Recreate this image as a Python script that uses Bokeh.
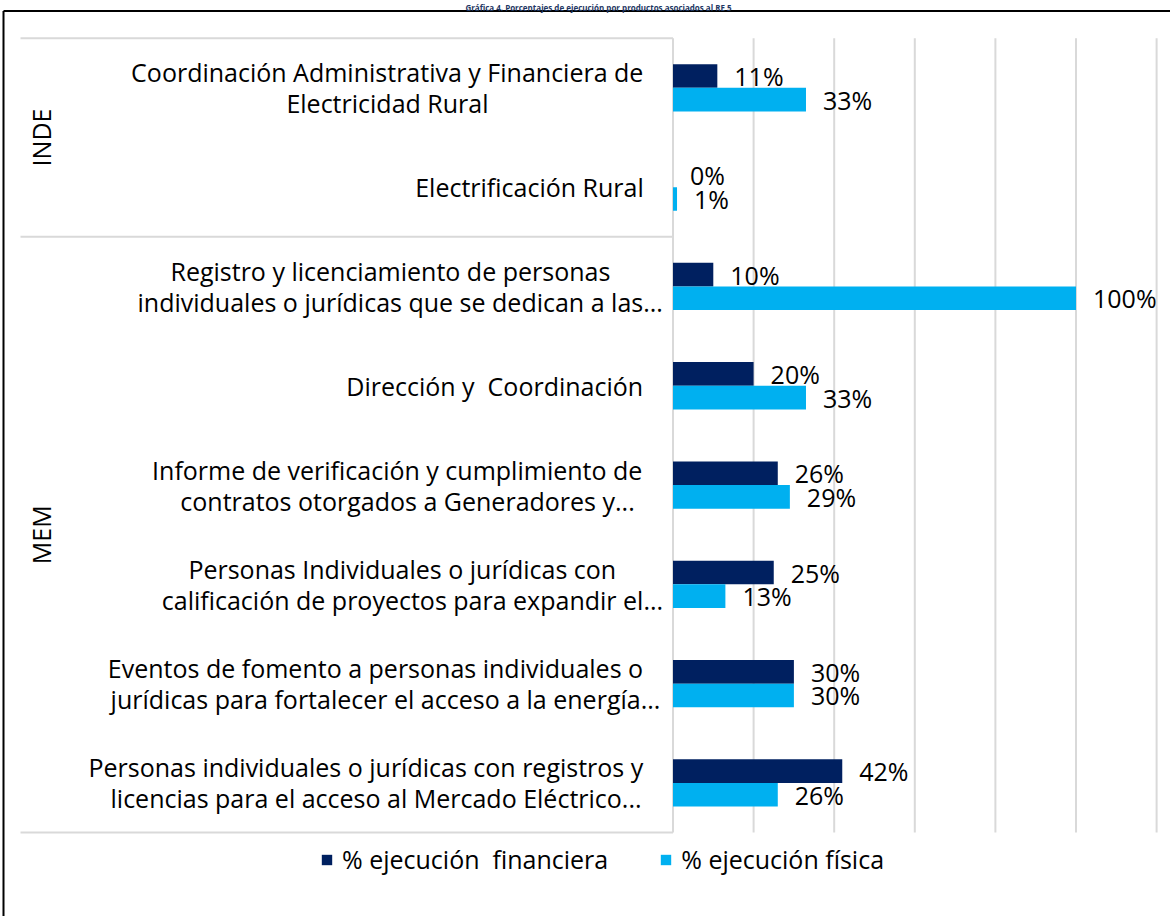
import math
from bokeh.plotting import figure
from bokeh.models import Range1d, Legend, LegendItem, ColumnDataSource
from bokeh.core.properties import value
from bokeh.transform import dodge
from bokeh.embed import file_html
from bokeh.resources import INLINE

# ---------------- data ----------------
title_text = "Gráfica 4. Porcentajes de ejecución por productos asociados al RE 5"
groups = ["INDE", "INDE", "MEM", "MEM", "MEM", "MEM", "MEM", "MEM"]
categories = [
    "Coordinación Administrativa y Financiera de\nElectricidad Rural",
    "Electrificación Rural",
    "Registro y licenciamiento de personas\nindividuales o jurídicas que se dedican a las...",
    "Dirección y  Coordinación",
    "Informe de verificación y cumplimiento de\ncontratos otorgados a Generadores y...",
    "Personas Individuales o jurídicas con\ncalificación de proyectos para expandir el...",
    "Eventos de fomento a personas individuales o\njurídicas para fortalecer el acceso a la energía...",
    "Personas individuales o jurídicas con registros y\nlicencias para el acceso al Mercado Eléctrico...",
]
ejec_financiera = [11, 0, 10, 20, 26, 25, 30, 42]
ejec_fisica = [33, 1, 100, 33, 29, 13, 30, 26]
series_names = ["% ejecución  financiera", "% ejecución física"]
grid_ticks = [0, 20, 40, 60, 80, 100, 120]

# ---------------- styles / layout ----------------
FONT = "Open Sans"
FS = 25                 # main font size (px)
DARK = "#002060"
LIGHT = "#00B0F0"
GRID = "#D9D9D9"
W, H = 1170, 916
X0_PX = 672.5           # pixel of value 0
PX_PER_UNIT = 4.03      # pixels per percentage point
TOP_PX = 37.7           # top of first category band
BAND_PX = 99.3          # height of one category band
BAR_H = 0.238           # bar thickness (fraction of band)
LABEL_RIGHT = -29.5     # right edge of category labels, px from value 0
LINE_PX = 31            # line spacing of category labels

x_start = -X0_PX / PX_PER_UNIT
x_end = (W - X0_PX) / PX_PER_UNIT
y_top = -TOP_PX / BAND_PX
y_bottom = (H - TOP_PX) / BAND_PX


def px2x(px):
    return x_start + px / PX_PER_UNIT


def px2y(py):
    return y_top + py / BAND_PX


# approximate Open Sans advance widths (units per em = 2048), used to centre label lines
ADV = {
    "a": 1139, "b": 1255, "c": 975, "d": 1255, "e": 1149, "f": 694, "g": 1122, "h": 1257,
    "i": 518, "j": 518, "k": 1075, "l": 518, "m": 1905, "n": 1257, "o": 1237, "p": 1255,
    "q": 1255, "r": 836, "s": 977, "t": 723, "u": 1257, "v": 1026, "w": 1593, "x": 1073,
    "y": 1028, "z": 981, "A": 1296, "C": 1292, "D": 1503, "E": 1124, "F": 1040, "G": 1487,
    "I": 625, "M": 1849, "P": 1212, "R": 1264, " ": 532, ".": 545,
    "á": 1139, "é": 1149, "í": 518, "ó": 1237, "ú": 1257,
}


def text_w(s):
    return sum(ADV.get(ch, 1100) for ch in s) / 2048 * FS


n = len(categories)
ypos = [i + 0.5 for i in range(n)]

p = figure(width=W, height=H,
           x_range=Range1d(x_start, x_end),
           y_range=Range1d(y_bottom, y_top),
           x_axis_location=None, y_axis_location=None,
           toolbar_location=None, output_backend="svg",
           min_border=0, outline_line_color=None,
           background_fill_color="white", border_fill_color="white")
for g in p.grid:
    g.visible = False

# outer frame lines (left and top)
p.segment(x0=[px2x(3), px2x(3)], y0=[px2y(10.5), px2y(10.5)],
          x1=[px2x(3), px2x(W)], y1=[px2y(H), px2y(10.5)],
          line_color="black", line_width=2)

# title (only a thin strip is visible above the chart frame in the reference)
p.text(x=[px2x(598)], y=[px2y(1)], text=[title_text],
       text_font=value(FONT), text_font_size="8px", text_font_style="bold",
       text_color="#1F3864", text_align="center", text_baseline="top")

# vertical grid lines over the plotting band
p.segment(x0=grid_ticks, x1=grid_ticks, y0=[0] * len(grid_ticks), y1=[n] * len(grid_ticks),
          line_color=GRID, line_width=2)

# group separators (category-axis table lines)
bounds = [0]
for i in range(1, n):
    if groups[i] != groups[i - 1]:
        bounds.append(i)
bounds.append(n)
p.segment(x0=[px2x(20)] * len(bounds), x1=[0] * len(bounds), y0=bounds, y1=bounds,
          line_color=GRID, line_width=2)

src = ColumnDataSource(dict(
    y=ypos, fin=ejec_financiera, fis=ejec_fisica,
    fin_lbl=[f"{v}%" for v in ejec_financiera],
    fis_lbl=[f"{v}%" for v in ejec_fisica],
))

r_fin = p.hbar(y=dodge("y", -BAR_H / 2, range=p.y_range), left=0, right="fin", height=BAR_H,
               source=src, fill_color=DARK, line_color=None)
r_fis = p.hbar(y=dodge("y", BAR_H / 2, range=p.y_range), left=0, right="fis", height=BAR_H,
               source=src, fill_color=LIGHT, line_color=None)

lbl_kw = dict(text_font=value(FONT), text_font_size=f"{FS}px", text_color="black",
              text_align="left", text_baseline="middle", x_offset=17)
p.text(x="fin", y=dodge("y", -BAR_H / 2, range=p.y_range), text="fin_lbl", source=src, **lbl_kw)
p.text(x="fis", y=dodge("y", BAR_H / 2, range=p.y_range), text="fis_lbl", source=src, **lbl_kw)

# category labels: lines centred on each other, block right-aligned against the axis
ly, ltxt, lxo, lyo = [], [], [], []
for yc, cat in zip(ypos, categories):
    lines = cat.split("\n")
    cores = [ln[:-3] if ln.endswith("...") else ln for ln in lines]
    widths = [text_w(c) for c in cores]
    block = max(widths)
    centre = LABEL_RIGHT - block / 2
    for k, (ln, w) in enumerate(zip(lines, widths)):
        ly.append(yc)
        ltxt.append(ln.replace("  ", " \u00a0"))
        lxo.append(centre - w / 2)
        lyo.append((k - (len(lines) - 1) / 2) * LINE_PX)
lsrc = ColumnDataSource(dict(x=[0] * len(ly), y=ly, t=ltxt, xo=lxo, yo=lyo))
p.text(x="x", y="y", text="t", x_offset="xo", y_offset="yo", source=lsrc,
       text_font=value(FONT), text_font_size=f"{FS}px", text_color="black",
       text_align="left", text_baseline="middle")

# group labels
gnames, gcenters = [], []
for a, b in zip(bounds[:-1], bounds[1:]):
    gnames.append(groups[a])
    gcenters.append((a + b) / 2)
p.text(x=[px2x(40)] * len(gnames), y=gcenters, text=gnames, angle=math.pi / 2,
       text_font=value(FONT), text_font_size=f"{FS}px", text_color="black",
       text_align="center", text_baseline="middle")

legend = Legend(items=[LegendItem(label=series_names[0], renderers=[r_fin]),
                       LegendItem(label=series_names[1], renderers=[r_fis])],
                orientation="horizontal", location=(320, 40),
                label_text_font=FONT, label_text_font_size=f"{FS}px", label_text_color="black",
                glyph_width=13, glyph_height=13, label_standoff=9, spacing=51,
                padding=0, margin=0, border_line_color=None, background_fill_alpha=0)
p.add_layout(legend, "center")

open("out.html", "w").write(file_html(p, INLINE))
